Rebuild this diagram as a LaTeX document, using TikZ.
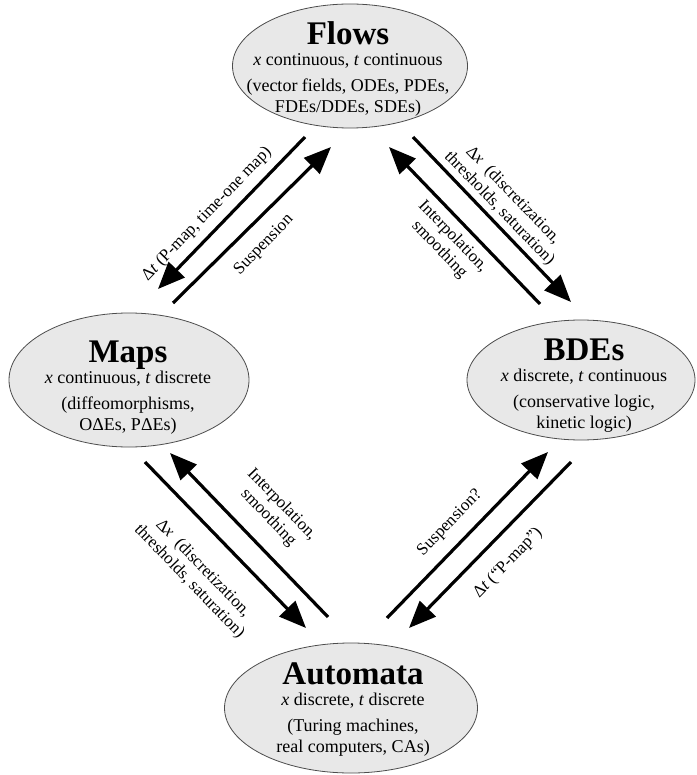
\documentclass[tikz,border=0pt]{standalone}
\usepackage{fontspec}
\setmainfont{Liberation Serif}
\usetikzlibrary{arrows.meta, shapes.geometric}

\begin{document}
\begin{tikzpicture}[x=1pt, y=-1pt,
    regime/.style={draw=black!70, fill=black!9, line width=0.8pt, ellipse, inner sep=0pt},
    regimetext/.style={align=center, inner sep=0pt, font=\fontsize{18}{21}\selectfont},
    bigarrow/.style={line width=3.2pt, -{Triangle[length=27pt, width=22pt]}},
    arrowlabel/.style={align=center, inner sep=0pt, font=\fontsize{17}{19}\selectfont}]
  \useasboundingbox (0,0) rectangle (696,775);

  % the four regimes
  \node[regime, minimum width=235pt, minimum height=124pt] (flows) at (350,66) {};
  \node[regimetext] (flows-text) at (348,69)
    {{\fontsize{33}{21}\selectfont\bfseries Flows}\\
     \textit{x} continuous, \textit{t} continuous\\[5pt]
     (vector fields, ODEs, PDEs,\\ FDEs/DDEs, SDEs)};

  \node[regime, minimum width=240pt, minimum height=134pt] (maps) at (129,380) {};
  \node[regimetext] (maps-text) at (128,388)
    {{\fontsize{33}{21}\selectfont\bfseries Maps}\\
     \textit{x} continuous, \textit{t} discrete\\[5pt]
     (diffeomorphisms,\\ OΔEs, PΔEs)};

  \node[regime, minimum width=228pt, minimum height=120pt] (bdes) at (581,380) {};
  \node[regimetext] (bdes-text) at (584,386)
    {{\fontsize{33}{21}\selectfont\bfseries BDEs}\\
     \textit{x} discrete, \textit{t} continuous\\[5pt]
     (conservative logic,\\ kinetic logic)};

  \node[regime, minimum width=253pt, minimum height=130pt] (automata) at (351,708) {};
  \node[regimetext] (automata-text) at (353,710)
    {{\fontsize{33}{21}\selectfont\bfseries Automata}\\
     \textit{x} discrete, \textit{t} discrete\\[5pt]
     (Turing machines,\\ real computers, CAs)};

  % arrow ends
  \coordinate (fm-tail) at (305,137);  \coordinate (fm-tip) at (158,289);
  \coordinate (mf-tail) at (173,303);  \coordinate (mf-tip) at (331,147);
  \coordinate (fb-tail) at (413,137);  \coordinate (fb-tip) at (571,302);
  \coordinate (bf-tail) at (540,304);  \coordinate (bf-tip) at (389,147);
  \coordinate (ma-tail) at (145,462);  \coordinate (ma-tip) at (306,628);
  \coordinate (am-tail) at (328,617);  \coordinate (am-tip) at (170,453);
  \coordinate (ab-tail) at (387,618);  \coordinate (ab-tip) at (548,452);
  \coordinate (ba-tail) at (571,462);  \coordinate (ba-tip) at (409,628);

  \draw[bigarrow] (fm-tail) -- (fm-tip);
  \draw[bigarrow] (mf-tail) -- (mf-tip);
  \draw[bigarrow] (fb-tail) -- (fb-tip);
  \draw[bigarrow] (bf-tail) -- (bf-tip);
  \draw[bigarrow] (ma-tail) -- (ma-tip);
  \draw[bigarrow] (am-tail) -- (am-tip);
  \draw[bigarrow] (ab-tail) -- (ab-tip);
  \draw[bigarrow] (ba-tail) -- (ba-tip);

  % labels along the arrows
  \node[arrowlabel, rotate=46] (fm-label) at (207,214) {Δ\textit{t} (P-map, time-one map)};
  \node[arrowlabel, rotate=46] (mf-label) at (264,245) {Suspension};
  \node[arrowlabel, rotate=-46] (fb-label) at (506,202)
    {Δ\textit{x}\ \ (discretization,\\ thresholds, saturation)};
  \node[arrowlabel, rotate=-46] (bf-label) at (446,243) {Interpolation,\\ smoothing};
  \node[arrowlabel, rotate=-46] (am-label) at (275,511) {Interpolation,\\ smoothing};
  \node[arrowlabel, rotate=-46] (ma-label) at (196,575)
    {Δ\textit{x}\ \ (discretization,\\ thresholds, saturation)};
  \node[arrowlabel, rotate=46] (ab-label) at (450,523) {Suspension?};
  \node[arrowlabel, rotate=46] (ba-label) at (508,563) {Δ\textit{t} (``P-map'')};
\end{tikzpicture}
\end{document}
